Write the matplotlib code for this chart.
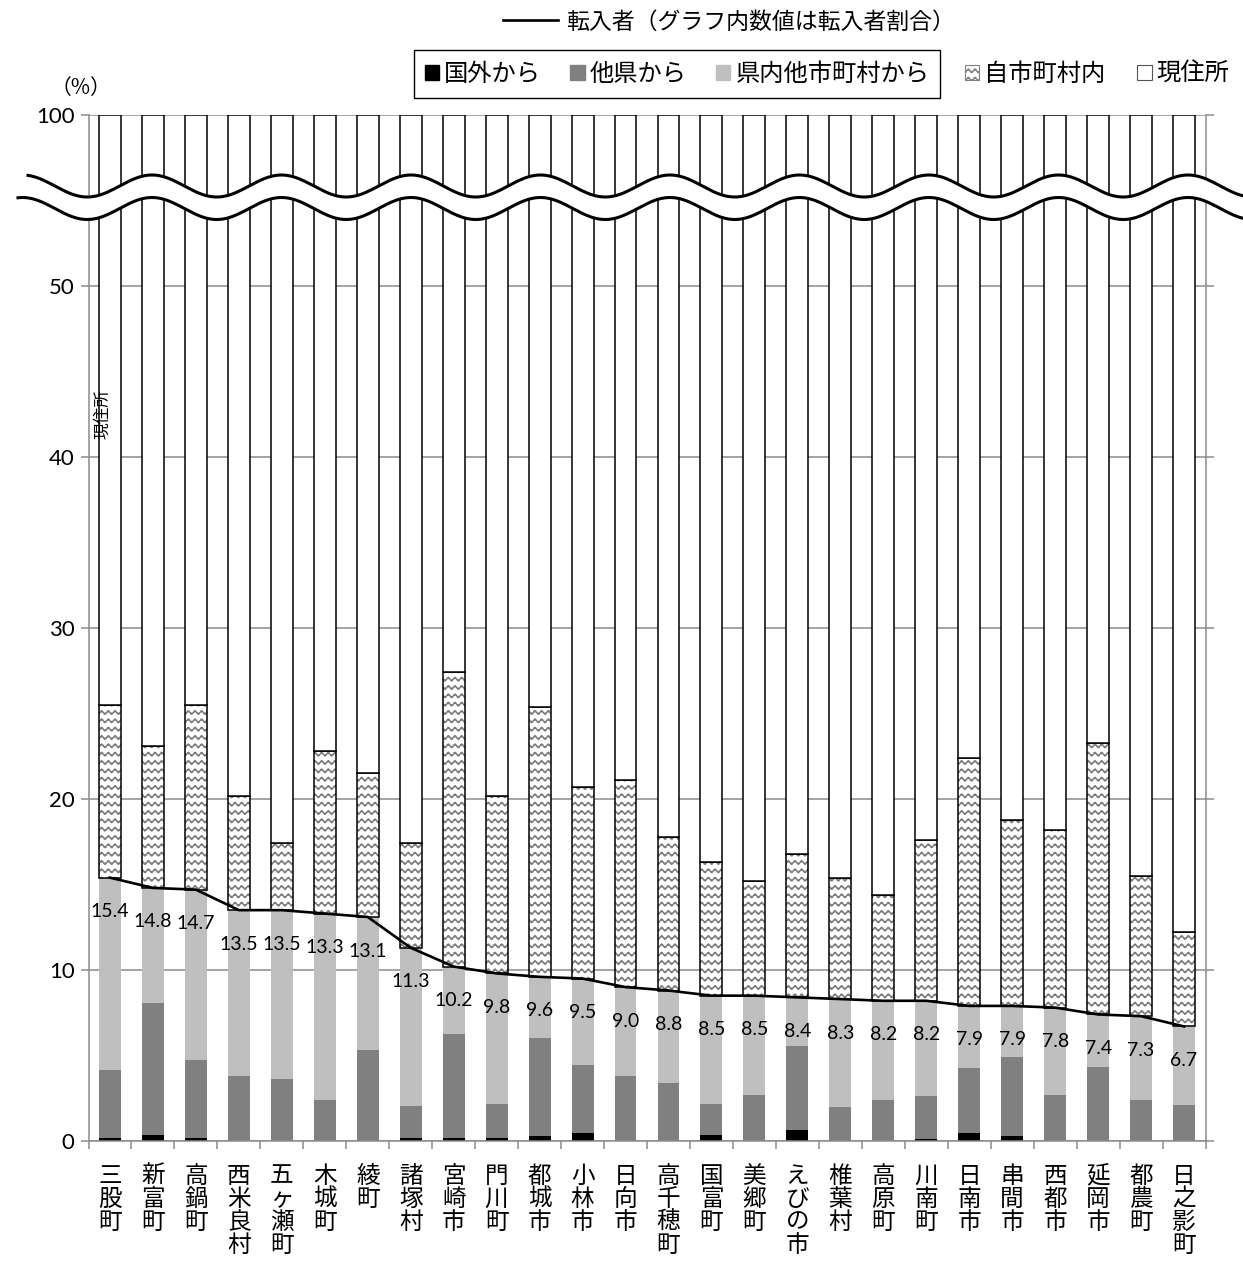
import warnings

import matplotlib
matplotlib.use("Agg")
import matplotlib.pyplot as plt
import matplotlib.hatch as mhatch
import numpy as np
from matplotlib.lines import Line2D
from matplotlib.patches import Patch, Polygon
from matplotlib.path import Path

warnings.filterwarnings("ignore", category=matplotlib.MatplotlibDeprecationWarning)

plt.rcParams["font.family"] = ["Noto Sans CJK JP", "DejaVu Sans"]
plt.rcParams["hatch.linewidth"] = 1.0

# data
municipalities = [
    "三股町", "新富町", "高鍋町", "西米良村", "五ヶ瀬町", "木城町", "綾町",
    "諸塚村", "宮崎市", "門川町", "都城市", "小林市", "日向市", "高千穂町",
    "国富町", "美郷町", "えびの市", "椎葉村", "高原町", "川南町", "日南市",
    "串間市", "西都市", "延岡市", "都農町", "日之影町",
]
transfer_rate = [15.4, 14.8, 14.7, 13.5, 13.5, 13.3, 13.1, 11.3, 10.2, 9.8,
                 9.6, 9.5, 9.0, 8.8, 8.5, 8.5, 8.4, 8.3, 8.2, 8.2, 7.9, 7.9,
                 7.8, 7.4, 7.3, 6.7]
from_abroad = [0.15, 0.35, 0.15, 0.0, 0.0, 0.0, 0.0, 0.15, 0.15, 0.15, 0.3,
               0.45, 0.0, 0.0, 0.35, 0.0, 0.65, 0.0, 0.0, 0.12, 0.45, 0.3,
               0.0, 0.0, 0.0, 0.0]
from_other_pref = [4.0, 7.7, 4.6, 3.8, 3.6, 2.4, 5.3, 1.9, 6.1, 2.0, 5.7, 4.0,
                   3.8, 3.4, 1.8, 2.7, 4.9, 2.0, 2.4, 2.5, 3.8, 4.6, 2.7, 4.3,
                   2.4, 2.1]
same_municipality = [10.1, 8.3, 10.8, 6.7, 3.9, 9.5, 8.4, 6.1, 17.2, 10.4,
                     15.8, 11.2, 12.1, 9.0, 7.8, 6.7, 8.4, 7.1, 6.2, 9.4, 14.5,
                     10.9, 10.4, 15.9, 8.2, 5.5]

rate = np.array(transfer_rate)
abroad = np.array(from_abroad)
other_pref = np.array(from_other_pref)
in_pref = rate - abroad - other_pref
own = np.array(same_municipality)
current = 100 - rate - own


class WaveHatch(mhatch.HatchPatternBase):
    """wavy hatch like the Excel 'wave' pattern, selected with '~'"""

    def __init__(self, hatch, density):
        self.num_rows = 12 if "~" in hatch else 0
        self.num_cycles = 15
        self.steps = self.num_cycles * 8 + 1
        self.num_vertices = self.num_rows * self.steps

    def set_vertices_and_codes(self, vertices, codes):
        t = np.linspace(0, 1, self.steps)
        for r in range(self.num_rows):
            sl = slice(r * self.steps, (r + 1) * self.steps)
            vertices[sl, 0] = t
            vertices[sl, 1] = (r + 0.5) / self.num_rows + 0.018 * np.sin(
                2 * np.pi * self.num_cycles * t)
            codes[sl] = Path.LINETO
            codes[r * self.steps] = Path.MOVETO


mhatch._hatch_types.append(WaveHatch)


# broken axis: 50..100 squeezed into the height of 10
def fwd(v):
    v = np.asarray(v, dtype=float)
    return np.where(v <= 50, v, 50 + (v - 50) / 5)


def inv(u):
    u = np.asarray(u, dtype=float)
    return np.where(u <= 50, u, 50 + (u - 50) * 5)


W, H = 1243, 1261
fig = plt.figure(figsize=(W / 100, H / 100), dpi=100)
ax = fig.add_axes([88.5 / W, 1 - 1141 / H, (1205.5 - 88.5) / W, (1141 - 115) / H])
ax.set_yscale("function", functions=(fwd, inv))

x = np.arange(len(municipalities))
bw = 0.51
GRID = "#8c8c8c"

ax.bar(x, abroad, bw, color="black", zorder=2)
ax.bar(x, other_pref, bw, bottom=abroad, color="#808080", zorder=2)
ax.bar(x, in_pref, bw, bottom=abroad + other_pref, color="#bfbfbf", zorder=2)
ax.bar(x, own, bw, bottom=rate, facecolor="white", edgecolor="#7a7a7a",
       linewidth=0, hatch="~", zorder=2)
ax.bar(x, own, bw, bottom=rate, fill=False, edgecolor="black", linewidth=1.1,
       zorder=2.5)
ax.bar(x, current, bw, bottom=rate + own, facecolor="white", edgecolor="black",
       linewidth=1.1, zorder=2.5)

ax.plot(x, rate, color="black", linewidth=1.9, zorder=4)
for xi, v in zip(x, rate):
    ax.annotate(f"{v:.1f}", (xi, v), xytext=(0, -24.5), textcoords="offset points",
                ha="center", va="center", fontsize=14, family="Lato", zorder=5)

ax.text(-0.17, 42.5, "現住所", rotation=90, ha="center", va="center", fontsize=12,
        zorder=5)

ax.set_xlim(-0.5, len(municipalities) - 0.5)
ax.set_ylim(0, 100)
ax.set_yticks([0, 10, 20, 30, 40, 50, 100])
ax.set_yticklabels(["0", "10", "20", "30", "40", "50", "100"], family="Lato",
                   fontsize=16)
ax.yaxis.grid(True, color=GRID, linewidth=1.1, zorder=0)
ax.set_axisbelow(True)
ax.tick_params(axis="y", length=6, color=GRID, width=1.1, pad=4, right=True)

ax.set_xticks(x)
ax.set_xticklabels(["\n".join(m) for m in municipalities], fontsize=17,
                   linespacing=1.0, va="top")
ax.set_xticks(np.arange(-0.5, len(municipalities)), minor=True)
ax.tick_params(axis="x", which="major", length=0, pad=17)
ax.tick_params(axis="x", which="minor", length=6, color=GRID, width=1.1)

for side in ["left", "bottom", "right"]:
    ax.spines[side].set_color(GRID)
    ax.spines[side].set_linewidth(1.1)
ax.spines["top"].set_visible(False)

# wavy break band across the axis
xs = np.linspace(28, W + 10, 400)
upper = 186 - 11 * np.cos(2 * np.pi * (xs - 152) / 129.5)
xs2 = np.linspace(18, W + 10, 400)
lower = 186 - 11 * np.cos(2 * np.pi * (xs2 - 152) / 129.5) + 22.5
band = np.vstack([np.column_stack([xs, upper]), np.column_stack([xs2, lower])[::-1]])
band = np.column_stack([band[:, 0] / W, 1 - band[:, 1] / H])
fig.add_artist(Polygon(band, closed=True, facecolor="white", edgecolor="none",
                       transform=fig.transFigure, zorder=3))
fig.add_artist(Line2D(xs / W, 1 - upper / H, color="black", linewidth=2.2,
                      transform=fig.transFigure, zorder=3.1))
fig.add_artist(Line2D(xs2 / W, 1 - lower / H, color="black", linewidth=2.2,
                      transform=fig.transFigure, zorder=3.1))

fig.text(81 / W, 1 - 88 / H, "（%）", ha="center", va="center", fontsize=15)

# legends
leg1 = fig.legend(handles=[Line2D([], [], color="black", linewidth=1.9)],
                  labels=["転入者（グラフ内数値は転入者割合）"], loc="center",
                  bbox_to_anchor=(729 / W, 1 - 22 / H), frameon=False,
                  fontsize=16.5, handlelength=2.4, handletextpad=0.35)
leg2 = fig.legend(handles=[Patch(color="black"), Patch(color="#808080"),
                           Patch(color="#bfbfbf")],
                  labels=["国外から", "他県から", "県内他市町村から"], loc="center",
                  bbox_to_anchor=(677 / W, 1 - 74 / H), ncol=3, fontsize=17.5,
                  handlelength=0.6, handleheight=0.6, handletextpad=0.2,
                  columnspacing=1.2, fancybox=False, edgecolor="black",
                  framealpha=1, borderpad=0.45, borderaxespad=0)
leg2.get_frame().set_linewidth(1.0)
leg3 = fig.legend(handles=[Patch(facecolor="white", edgecolor="#808080", hatch="~",
                                 linewidth=0.8),
                           Patch(facecolor="white", edgecolor="#555555",
                                 linewidth=0.8)],
                  labels=["自市町村内", "現住所"], loc="center",
                  bbox_to_anchor=(1097 / W, 1 - 74 / H), ncol=2, fontsize=17.5,
                  handlelength=0.6, handleheight=0.6, handletextpad=0.2,
                  columnspacing=1.3, frameon=False)

fig.savefig("out.png", dpi=100)
